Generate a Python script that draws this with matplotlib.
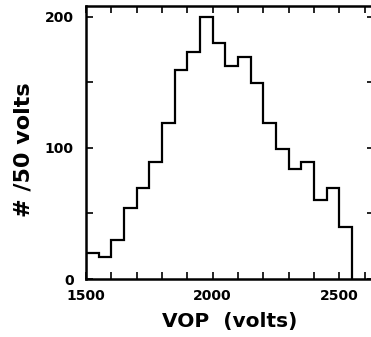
import matplotlib
matplotlib.use("Agg")
import matplotlib.pyplot as plt
import numpy as np

bin_edges = [1500, 1550, 1600, 1650, 1700, 1750, 1800, 1850, 1900, 1950, 2000,
             2050, 2100, 2150, 2200, 2250, 2300, 2350, 2400, 2450, 2500, 2550]
counts = [20, 17, 30, 54, 69, 89, 119, 159, 173, 200, 180,
          162, 169, 149, 119, 99, 84, 89, 60, 69, 40]
x_ticklabels = [1500, 2000, 2500]
y_ticklabels = [0, 100, 200]

fig = plt.figure(figsize=(3.71, 3.37), dpi=100)
ax = fig.add_axes([0.232, 0.172, 0.776, 0.81])

ax.stairs(counts, bin_edges, color="black", linewidth=1.6, baseline=0)

ax.set_xlim(1500, 2637)
ax.set_ylim(0, 208)

ax.set_xticks(x_ticklabels)
ax.set_xticks(np.arange(1600, 2700, 100), minor=True)
ax.set_yticks(y_ticklabels)
ax.set_yticks([50, 150], minor=True)
ax.set_xticklabels([str(v) for v in x_ticklabels])
ax.set_yticklabels([str(v) for v in y_ticklabels])

for which in ("major", "minor"):
    ax.tick_params(axis="both", which=which, direction="in", length=5, width=1.2,
                   top=True, right=True)
ax.tick_params(axis="x", which="major", pad=7, labelsize=10)
ax.tick_params(axis="y", which="major", pad=9, labelsize=10)
for lab in ax.get_xticklabels() + ax.get_yticklabels():
    lab.set_fontweight("semibold")

for s in ax.spines.values():
    s.set_linewidth(1.8)

ax.set_xlabel("VOP  (volts)", fontsize=14.5, fontweight="bold", labelpad=7)
fig.text(0.062, 0.555, "# /50 volts", rotation=90, fontsize=16, fontweight="bold",
         ha="center", va="center")

fig.savefig("out.png", dpi=100)
